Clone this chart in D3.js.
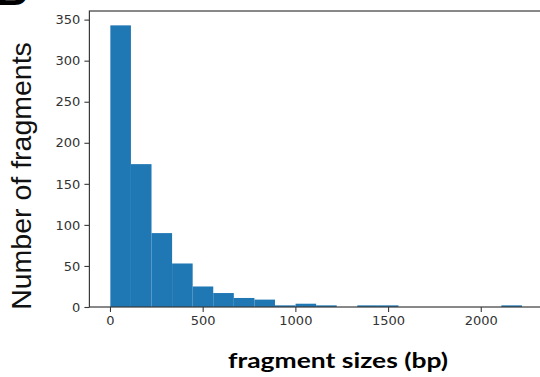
<!DOCTYPE html>
<html>
<head>
<meta charset="utf-8">
<script src="https://cdn.jsdelivr.net/npm/d3@7"></script>
<style>
  html, body { margin: 0; padding: 0; background: #fff; }
  svg { display: block; }
</style>
</head>
<body>
<div id="chart"></div>
<script>
// histogram bin edges (bp) and counts
var binEdges = [2, 113, 224, 335, 446, 557, 668, 779, 890, 1001, 1112,
  1223, 1334, 1445, 1556, 1667, 1778, 1889, 2000, 2111, 2222];
var counts = [343, 174, 90, 53, 25, 17, 11, 9, 2, 4, 2, 0, 2, 2, 0, 0, 0, 0, 0, 2];
var xTicks = [0, 500, 1000, 1500, 2000];
var yTicks = [0, 50, 100, 150, 200, 250, 300, 350];

var width = 540, height = 377;

var bins = counts.map(function (c, i) {
  return { x0: binEdges[i], x1: binEdges[i + 1], n: c };
});

var svg = d3.select("#chart").append("svg")
  .attr("width", width)
  .attr("height", height);

var x = d3.scaleLinear().domain([-111, 2333]).range([89.4, 542.5]);
var y = d3.scaleLinear().domain([0, 360.5]).range([307, 11]);

// bars
svg.append("g")
  .selectAll("rect")
  .data(bins.filter(function (d) { return d.n > 0; }))
  .enter().append("rect")
  .attr("x", function (d) { return x(d.x0); })
  .attr("width", function (d) { return x(d.x1) - x(d.x0); })
  .attr("y", function (d) { return y(d.n); })
  .attr("height", function (d) { return y(0) - y(d.n); })
  .attr("fill", "#1f77b4");

// frame
svg.append("rect")
  .attr("x", x.range()[0])
  .attr("y", y.range()[1])
  .attr("width", x.range()[1] - x.range()[0])
  .attr("height", y.range()[0] - y.range()[1])
  .attr("fill", "none")
  .attr("stroke", "#3a3a3a")
  .attr("stroke-width", 1.2);

var xAxis = svg.append("g")
  .attr("transform", "translate(0," + y(0) + ")")
  .call(d3.axisBottom(x).tickValues(xTicks).tickFormat(d3.format("d"))
    .tickSize(5).tickPadding(4));

var yAxis = svg.append("g")
  .attr("transform", "translate(" + x.range()[0] + ",0)")
  .call(d3.axisLeft(y).tickValues(yTicks).tickFormat(d3.format("d"))
    .tickSize(5).tickPadding(4));

[xAxis, yAxis].forEach(function (g) {
  g.select(".domain").remove();
  g.selectAll("line").attr("stroke", "#3a3a3a").attr("stroke-width", 1.1);
  g.selectAll("text")
    .attr("fill", "#333")
    .style("font-family", "DejaVu Sans")
    .style("font-size", "13px");
});

// axis titles
svg.append("text")
  .attr("transform", "translate(31,176) rotate(-90)")
  .attr("text-anchor", "middle")
  .style("font-family", "Liberation Sans, Arial, sans-serif")
  .style("font-size", "28.5px")
  .attr("fill", "#111")
  .text("Number of fragments");

svg.append("text")
  .attr("x", 338)
  .attr("y", 368)
  .attr("text-anchor", "middle")
  .attr("textLength", 220)
  .attr("lengthAdjust", "spacingAndGlyphs")
  .style("font-family", "Lato, sans-serif")
  .style("font-weight", "bold")
  .style("font-size", "21px")
  .attr("fill", "#000")
  .text("fragment sizes (bp)");

// panel letter, cut off at the top edge as in the source figure
svg.append("text")
  .attr("x", -4)
  .attr("y", 4.5)
  .style("font-family", "Liberation Sans, Arial, sans-serif")
  .style("font-weight", "bold")
  .style("font-size", "44px")
  .attr("fill", "#000")
  .text("B");
</script>
</body>
</html>
